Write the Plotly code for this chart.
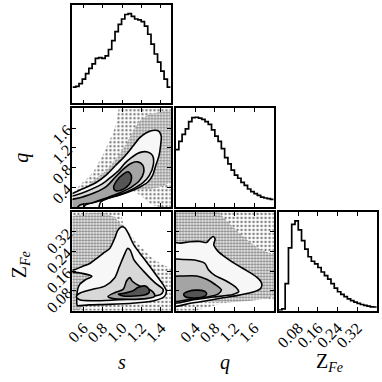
import numpy as np
import plotly.graph_objects as go

# axis ranges and ticks
s_range = [0.49, 1.50]
q_range = [0.0, 2.0]
z_range = [0.0, 0.40]
s_ticks = [0.6, 0.8, 1.0, 1.2, 1.4]
q_ticks = [0.4, 0.8, 1.2, 1.6]
z_ticks = [0.08, 0.16, 0.24, 0.32]
s_ticktext = ["0.6", "0.8", "1.0", "1.2", "1.4"]
q_ticktext = ["0.4", "0.8", "1.2", "1.6"]
z_ticktext = ["0.08", "0.16", "0.24", "0.32"]

# 1D marginal histograms (30 bins each, counts)
s_counts = [180, 190, 220, 270, 330, 390, 440, 500, 510, 500, 530, 600, 700, 800, 880,
            940, 990, 1000, 970, 940, 930, 910, 860, 770, 660, 550, 460, 360, 270, 180]
q_counts = [640, 730, 810, 870, 950, 995, 1000, 990, 975, 950, 920, 860, 790, 730, 650,
            550, 480, 410, 355, 320, 275, 240, 200, 170, 148, 128, 110, 100, 92, 85]
z_counts = [5, 20, 300, 700, 960, 1000, 900, 780, 685, 600, 550, 520, 480, 430, 390,
            350, 300, 250, 210, 180, 155, 130, 110, 95, 80, 68, 58, 50, 42, 40]

# s vs q : scatter zones and density contours (outer -> inner)
sq_dots_sparse = [(0.53, 0.33), (0.70, 0.70), (0.83, 1.17), (0.93, 1.63), (1.00, 2.1),
                  (1.6, 2.1), (1.6, 0.03), (1.33, 0.03), (1.13, 0.30)]
sq_dots_dense = [(0.66, 0.43), (0.83, 0.73), (0.96, 1.03), (1.05, 1.30), (1.13, 1.60),
                 (1.21, 1.80), (1.33, 1.90), (1.6, 1.93), (1.6, 0.70), (1.43, 0.43), (1.30, 0.37)]
sq_lvl4 = [(0.40, 0.27), (0.483, 0.27), (0.596, 0.37), (0.73, 0.49), (0.83, 0.634),
           (0.93, 0.834), (1.03, 1.034), (1.113, 1.234), (1.18, 1.40), (1.246, 1.50),
           (1.33, 1.554), (1.38, 1.534), (1.403, 1.434), (1.396, 1.234), (1.38, 1.034),
           (1.346, 0.834), (1.313, 0.634), (1.263, 0.50), (1.18, 0.40), (1.08, 0.314),
           (0.963, 0.234), (0.863, 0.18), (0.78, 0.10), (0.74, -0.1), (0.40, -0.1)]
sq_lvl3 = [(0.40, 0.221), (0.483, 0.221), (0.63, 0.314), (0.796, 0.467), (0.896, 0.621),
           (0.963, 0.734), (1.03, 0.887), (1.096, 1.001), (1.18, 1.101), (1.263, 1.114),
           (1.313, 1.047), (1.323, 0.867), (1.28, 0.634), (1.213, 0.487), (1.113, 0.367),
           (0.996, 0.267), (0.863, 0.181), (0.73, 0.101), (0.63, 0.047), (0.56, -0.1), (0.40, -0.1)]
sq_lvl2 = [(0.40, 0.154), (0.483, 0.154), (0.663, 0.247), (0.83, 0.401), (0.93, 0.601),
           (1.013, 0.767), (1.096, 0.887), (1.163, 0.914), (1.213, 0.847), (1.223, 0.701),
           (1.18, 0.534), (1.096, 0.401), (0.98, 0.287), (0.846, 0.187), (0.696, 0.087),
           (0.563, 0.034), (0.50, -0.1), (0.40, -0.1)]
sq_lvl1 = [(0.913, 0.401), (0.946, 0.534), (1.013, 0.667), (1.063, 0.714), (1.096, 0.634),
           (1.09, 0.514), (1.046, 0.401), (0.98, 0.334), (0.93, 0.334)]

# s vs Z_Fe
sz_dots_sparse = [(0.43, -0.01), (0.43, 0.42), (0.963, 0.42), (1.013, 0.353), (1.13, 0.287),
                  (1.33, 0.207), (1.6, 0.14), (1.6, -0.01)]
sz_dots_dense = [(0.43, 0.007), (0.43, 0.367), (0.596, 0.391), (0.796, 0.396), (0.913, 0.38),
                 (0.996, 0.347), (1.046, 0.32), (0.963, 0.247), (0.796, 0.194), (0.663, 0.14),
                 (0.596, 0.087), (0.58, 0.007)]
sz_lvl4 = [(0.54, 0.02), (0.54, 0.079), (0.563, 0.105), (0.623, 0.125), (0.69, 0.139),
           (0.573, 0.152), (0.506, 0.155), (0.43, 0.156), (0.43, 0.165), (0.506, 0.165),
           (0.59, 0.179), (0.673, 0.192), (0.74, 0.212), (0.806, 0.232), (0.873, 0.252),
           (0.923, 0.292), (0.956, 0.325), (0.99, 0.339), (1.023, 0.337), (1.056, 0.319),
           (1.123, 0.265), (1.223, 0.212), (1.323, 0.159), (1.423, 0.105), (1.456, 0.079),
           (1.436, 0.057), (1.33, 0.04), (1.13, 0.031), (0.863, 0.025), (0.663, 0.023), (0.563, 0.02)]
sz_lvl3 = [(0.53, 0.0575), (0.573, 0.072), (0.69, 0.0855), (0.823, 0.099), (0.923, 0.132),
           (0.973, 0.179), (1.023, 0.2255), (1.056, 0.252), (1.083, 0.2455), (1.123, 0.2055),
           (1.223, 0.159), (1.34, 0.112), (1.423, 0.0855), (1.403, 0.067), (1.23, 0.0535),
           (0.963, 0.044), (0.73, 0.04), (0.563, 0.044)]
sz_lvl2 = [(0.856, 0.0575), (0.93, 0.0735), (1.013, 0.0868), (1.046, 0.12), (1.08, 0.1335),
           (1.103, 0.12), (1.18, 0.10), (1.263, 0.0895), (1.323, 0.0735), (1.336, 0.0575),
           (1.263, 0.0495), (1.063, 0.0455), (0.896, 0.0495)]
sz_lvl1 = [(0.963, 0.0668), (1.03, 0.0708), (1.113, 0.08), (1.163, 0.0935), (1.23, 0.10),
           (1.27, 0.091), (1.28, 0.074), (1.23, 0.063), (1.13, 0.0588), (1.013, 0.0588)]

# q vs Z_Fe
qz_dots_sparse = [(-0.1, 0.42), (2.1, 0.42), (2.1, 0.05), (1.6, 0.05), (1.0, 0.03), (-0.1, 0.0)]
qz_dots_dense = [(-0.1, 0.42), (0.766, 0.42), (0.966, 0.38), (1.233, 0.327), (1.633, 0.26),
                 (2.1, 0.207), (2.1, 0.07), (-0.1, 0.07)]
qz_lvl4 = [(-0.1, 0.2735), (0.099, 0.2735), (0.299, 0.279), (0.499, 0.28), (0.633, 0.276),
           (0.699, 0.29), (0.766, 0.30), (0.806, 0.29), (0.779, 0.267), (0.866, 0.24),
           (1.033, 0.2135), (1.233, 0.187), (1.466, 0.16), (1.666, 0.1335), (1.753, 0.111),
           (1.733, 0.0895), (1.599, 0.076), (1.299, 0.0628), (0.966, 0.052), (0.633, 0.04),
           (0.299, 0.0295), (-0.1, 0.02)]
qz_lvl3 = [(-0.1, 0.204), (0.166, 0.2068), (0.433, 0.2028), (0.599, 0.1908), (0.666, 0.1668),
           (0.799, 0.1428), (1.033, 0.12), (1.233, 0.0935), (1.286, 0.076), (1.166, 0.0655),
           (0.766, 0.0548), (0.366, 0.044), (-0.1, 0.0335)]
qz_lvl2 = [(-0.1, 0.1335), (0.166, 0.14), (0.433, 0.14), (0.633, 0.1268), (0.799, 0.1068),
           (0.933, 0.084), (0.866, 0.0668), (0.633, 0.0548), (0.299, 0.0455), (-0.1, 0.0388)]
qz_lvl1 = [(0.166, 0.0668), (0.266, 0.0788), (0.466, 0.0828), (0.599, 0.0775), (0.633, 0.0655),
           (0.553, 0.0548), (0.366, 0.0508), (0.199, 0.0561)]

W = H = 382
SERIF = "Liberation Serif"
band_fill = {4: "#f7f7f7", 3: "#d8d8d8", 2: "#a4a4a4", 1: "#555555"}

fig = go.Figure()


def px_dom(a, b, flip=False):
    if flip:
        return [1 - b / H, 1 - a / H]
    return [a / W, b / W]


col_dom = [px_dom(66.7, 166.7), px_dom(171.7, 271.7), px_dom(276.7, 376.7)]
row_dom = [px_dom(4.7, 104.7, True), px_dom(109.7, 209.7, True), px_dom(214.7, 314.7, True)]

base_axis = dict(showgrid=False, zeroline=False, showline=True, linecolor="black",
                 linewidth=1.6, mirror="allticks", ticks="inside", ticklen=4,
                 tickwidth=1, tickcolor="black",
                 tickfont=dict(family=SERIF, size=16, color="black"))

# column, row, x range/ticks/labels, y range/ticks/labels
panels = {
    1: (0, 0, s_range, s_ticks, s_ticktext, False, None, None, None, False),
    2: (0, 1, s_range, s_ticks, s_ticktext, False, q_range, q_ticks, q_ticktext, True),
    3: (0, 2, s_range, s_ticks, s_ticktext, True, z_range, z_ticks, z_ticktext, True),
    4: (1, 1, q_range, q_ticks, q_ticktext, False, None, None, None, False),
    5: (1, 2, q_range, q_ticks, q_ticktext, True, z_range, z_ticks, z_ticktext, False),
    6: (2, 2, z_range, z_ticks, z_ticktext, True, None, None, None, False),
}

hist_max = {1: max(s_counts), 4: max(q_counts), 6: max(z_counts)}

layout_axes = {}
for i, (c, r, xr, xt, xtt, xlab, yr, yt, ytt, ylab) in panels.items():
    xa = dict(base_axis, domain=col_dom[c], anchor=f"y{i}", range=xr, tickvals=xt,
              ticktext=xtt, showticklabels=xlab, tickangle=-45)
    if yr is None:
        ya = dict(base_axis, domain=row_dom[r], anchor=f"x{i}", range=[0, 1.1 * hist_max[i]],
                  ticks="", showticklabels=False)
    else:
        ya = dict(base_axis, domain=row_dom[r], anchor=f"x{i}", range=yr, tickvals=yt,
                  ticktext=ytt, showticklabels=ylab, tickangle=-45)
    layout_axes["xaxis" if i == 1 else f"xaxis{i}"] = xa
    layout_axes["yaxis" if i == 1 else f"yaxis{i}"] = ya


def add_hist(counts, rng, i):
    edges = np.linspace(rng[0], rng[1], len(counts) + 1)
    fig.add_trace(go.Scatter(x=edges, y=list(counts) + [counts[-1]], mode="lines",
                             line=dict(color="black", width=1.7, shape="hv"),
                             xaxis=f"x{i}", yaxis=f"y{i}", showlegend=False, hoverinfo="skip"))


def add_poly(pts, i, fillcolor="white", line=True, pattern=None):
    xs = [p[0] for p in pts] + [pts[0][0]]
    ys = [p[1] for p in pts] + [pts[0][1]]
    kw = dict(x=xs, y=ys, mode="lines", fill="toself", fillcolor=fillcolor,
              line=dict(color="black" if line else "rgba(0,0,0,0)", width=1.6 if line else 0,
                        shape="spline", smoothing=0.8),
              xaxis=f"x{i}", yaxis=f"y{i}", showlegend=False, hoverinfo="skip")
    if pattern is not None:
        kw["fillpattern"] = pattern
    fig.add_trace(go.Scatter(**kw))


sparse_pat = dict(shape=".", fgcolor="black", bgcolor="white", size=4, solidity=0.3)
dense_pat = dict(shape=".", fgcolor="black", bgcolor="white", size=3, solidity=0.5)

add_hist(s_counts, s_range, 1)
add_hist(q_counts, q_range, 4)
add_hist(z_counts, z_range, 6)

for i, zones in ((2, (sq_dots_sparse, sq_dots_dense, sq_lvl4, sq_lvl3, sq_lvl2, sq_lvl1)),
                 (3, (sz_dots_sparse, sz_dots_dense, sz_lvl4, sz_lvl3, sz_lvl2, sz_lvl1)),
                 (5, (qz_dots_sparse, qz_dots_dense, qz_lvl4, qz_lvl3, qz_lvl2, qz_lvl1))):
    sparse, dense, l4, l3, l2, l1 = zones
    add_poly(sparse, i, line=False, pattern=sparse_pat)
    add_poly(dense, i, line=False, pattern=dense_pat)
    add_poly(l4, i, band_fill[4])
    add_poly(l3, i, band_fill[3])
    add_poly(l2, i, band_fill[2])
    add_poly(l1, i, band_fill[1])

title_font = dict(family=SERIF, size=20, color="black")
annotations = [
    dict(text="<i>s</i>", x=116.7 / W, y=1 - 367 / H),
    dict(text="<i>q</i>", x=221.7 / W, y=1 - 367 / H),
    dict(text="Z<sub><i>Fe</i></sub>", x=329 / W, y=1 - 367 / H),
    dict(text="<i>q</i>", x=15 / W, y=1 - 160 / H, textangle=-90),
    dict(text="Z<sub><i>Fe</i></sub>", x=14 / W, y=1 - 268 / H, textangle=-90),
]
for a in annotations:
    a.update(xref="paper", yref="paper", showarrow=False, font=title_font,
             xanchor="center", yanchor="middle")

fig.update_layout(width=W, height=H, margin=dict(l=0, r=0, t=0, b=0),
                  paper_bgcolor="white", plot_bgcolor="white", showlegend=False,
                  annotations=annotations, **layout_axes)

# the page body has a default 8px margin; drop it so the figure fills the window
fig.write_html("out.html", config={"displayModeBar": False},
               post_script="document.body.style.margin='0';document.body.style.overflow='hidden';")
